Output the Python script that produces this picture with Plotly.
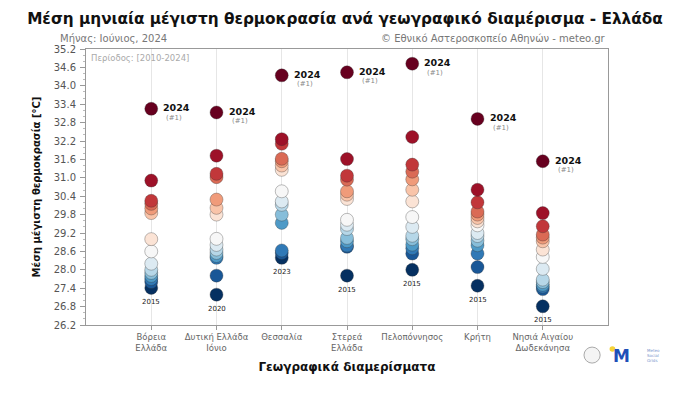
import plotly.graph_objects as go
from plotly.colors import sample_colorscale
from plotly.colors import diverging

# ---------------- data ----------------
regions = ["Βόρεια<br>Ελλάδα", "Δυτική Ελλάδα<br>Ιόνιο", "Θεσσαλία", "Στερεά<br>Ελλάδα",
           "Πελοπόννησος", "Κρήτη", "Νησιά Αιγαίου<br>Δωδεκάνησα"]

vals_voreia = [33.25, 30.91, 30.25, 30.15, 30.0, 29.85, 29.0, 28.6, 28.2, 28.0, 27.9, 27.8, 27.7, 27.6, 27.41]
vals_dytiki = [33.13, 31.72, 31.13, 31.02, 30.29, 30.02, 29.8, 29.01, 28.81, 28.66, 28.55, 28.45, 28.39, 27.81, 27.19]
vals_thessalia = [34.34, 32.26, 32.11, 31.62, 31.54, 31.4, 31.26, 30.56, 30.23, 30.12, 29.8, 29.53, 28.63, 28.55, 28.39]
vals_sterea = [34.44, 31.61, 31.07, 30.94, 30.56, 30.45, 30.31, 29.63, 29.47, 29.33, 29.04, 28.93, 28.79, 28.75, 27.81]
vals_pelop = [34.72, 32.33, 31.43, 31.2, 30.95, 30.61, 30.23, 29.72, 29.4, 29.11, 29.0, 28.82, 28.7, 28.53, 28.0]
vals_kriti = [32.92, 30.61, 30.2, 29.9, 29.8, 29.69, 29.58, 29.45, 29.2, 29.1, 28.95, 28.8, 28.53, 28.09, 27.48]
vals_nisia = [31.54, 29.85, 29.42, 29.15, 29.05, 28.93, 28.66, 28.42, 28.03, 27.68, 27.6, 27.51, 27.45, 27.37, 26.81]

all_vals = [vals_voreia, vals_dytiki, vals_thessalia, vals_sterea, vals_pelop, vals_kriti, vals_nisia]
max_years = ["2024", "2024", "2024", "2024", "2024", "2024", "2024"]
max_ranks = ["(#1)", "(#1)", "(#1)", "(#1)", "(#1)", "(#1)", "(#1)"]
min_years = ["2015", "2020", "2023", "2015", "2015", "2015", "2015"]

y_ticks = [26.2, 26.8, 27.4, 28.0, 28.6, 29.2, 29.8, 30.4, 31.0, 31.6, 32.2, 32.8, 33.4, 34.0, 34.6, 35.2]

# ---------------- figure ----------------
FONT = "DejaVu Sans"
scale = diverging.RdBu_r
fig = go.Figure()
annotations = []

for i, vals in enumerate(all_vals):
    s = sorted(vals)
    n = len(s)
    cols = sample_colorscale(scale, [k / (n - 1) for k in range(n)])
    fig.add_trace(go.Scatter(
        x=[i] * n, y=s, mode="markers",
        marker=dict(size=13, color=cols,
                    line=dict(color="rgba(50,50,50,0.55)", width=0.6)),
        showlegend=False, hoverinfo="y"))
    annotations.append(dict(x=i, y=s[-1], xref="x", yref="y", text="<b>" + max_years[i] + "</b>",
                            showarrow=False, xanchor="left", yanchor="middle", xshift=10, yshift=1,
                            font=dict(family=FONT, size=9.5, color="#111")))
    annotations.append(dict(x=i, y=s[-1], xref="x", yref="y", text=max_ranks[i],
                            showarrow=False, xanchor="left", yanchor="middle", xshift=13, yshift=-9,
                            font=dict(family=FONT, size=7, color="#888")))
    annotations.append(dict(x=i, y=s[0], xref="x", yref="y", text=min_years[i],
                            showarrow=False, xanchor="center", yanchor="middle", yshift=-14,
                            font=dict(family=FONT, size=7, color="#222")))

annotations.append(dict(xref="paper", yref="paper", x=-0.054, y=1.0, yshift=3,
                        text="Μήνας: Ιούνιος, 2024", showarrow=False, xanchor="left", yanchor="bottom",
                        font=dict(family=FONT, size=10, color="#777")))
annotations.append(dict(xref="paper", yref="paper", x=1.0, y=1.0, yshift=3,
                        text="© Εθνικό Αστεροσκοπείο Αθηνών - meteo.gr", showarrow=False,
                        xanchor="right", yanchor="bottom",
                        font=dict(family=FONT, size=10, color="#777")))
annotations.append(dict(xref="paper", yref="paper", x=0.0, y=1.0, xshift=3, yshift=-2,
                        text="Περίοδος: [2010-2024]", showarrow=False, xanchor="left", yanchor="top",
                        font=dict(family=FONT, size=8.5, color="#aaa")))
# logo approximations (bottom right)
annotations.append(dict(xref="paper", yref="paper", x=1.025, y=-0.112, text="<b>M</b>",
                        showarrow=False, xanchor="center", yanchor="middle",
                        font=dict(family=FONT, size=17, color="#1d4fb8")))
annotations.append(dict(xref="paper", yref="paper", x=1.07, y=-0.112, text="Meteo<br>Social<br>Grids",
                        showarrow=False, xanchor="left", yanchor="middle", align="left",
                        font=dict(family=FONT, size=4, color="#7a95cc")))

shapes = [
    dict(type="circle", xref="paper", yref="paper", x0=0.954, x1=0.985, y0=-0.138, y1=-0.080,
         line=dict(color="#aaa", width=1), fillcolor="#f4f4f4"),
    dict(type="circle", xref="paper", yref="paper", x0=1.003, x1=1.014, y0=-0.097, y1=-0.077,
         line=dict(width=0), fillcolor="#f5d33a"),
]

# page body has an 8px default margin: figure is sized/offset to compensate
fig.update_layout(
    width=666, height=391,
    margin=dict(l=78, r=66, t=41, b=74),
    paper_bgcolor="white", plot_bgcolor="white",
    title=dict(text="<b>Μέση μηνιαία μέγιστη θερμοκρασία ανά γεωγραφικό διαμέρισμα - Ελλάδα</b>",
               x=0.506, xanchor="center", y=0.974, yanchor="middle",
               font=dict(family=FONT, size=15.3, color="#111")),
    annotations=annotations,
    shapes=shapes,
    xaxis=dict(range=[-1, 7], tickmode="array", tickvals=list(range(len(regions))), ticktext=regions,
               showgrid=True, gridcolor="#e6e6e6", gridwidth=1, zeroline=False,
               showline=True, linecolor="#999", mirror=True,
               ticks="outside", ticklen=4, tickcolor="#999",
               tickfont=dict(family=FONT, size=8.5, color="#666"),
               title=dict(text="<b>Γεωγραφικά διαμερίσματα</b>", standoff=10,
                          font=dict(family=FONT, size=12, color="#111"))),
    yaxis=dict(range=[26.2, 35.2], tickmode="array", tickvals=y_ticks,
               ticktext=["%.1f" % t for t in y_ticks],
               showgrid=False, zeroline=False, showline=True, linecolor="#999", mirror=True,
               ticks="outside", ticklen=5, tickcolor="#999", ticklabelstandoff=2,
               minor=dict(dtick=0.2, ticks="outside", ticklen=2, tickcolor="#bbb", showgrid=False),
               tickfont=dict(family=FONT, size=10, color="#555"),
               title=dict(text="<b>Μέση μέγιστη θερμοκρασία [°C]</b>", standoff=11,
                          font=dict(family=FONT, size=10, color="#111"))),
)

fig.write_html("out.html")
